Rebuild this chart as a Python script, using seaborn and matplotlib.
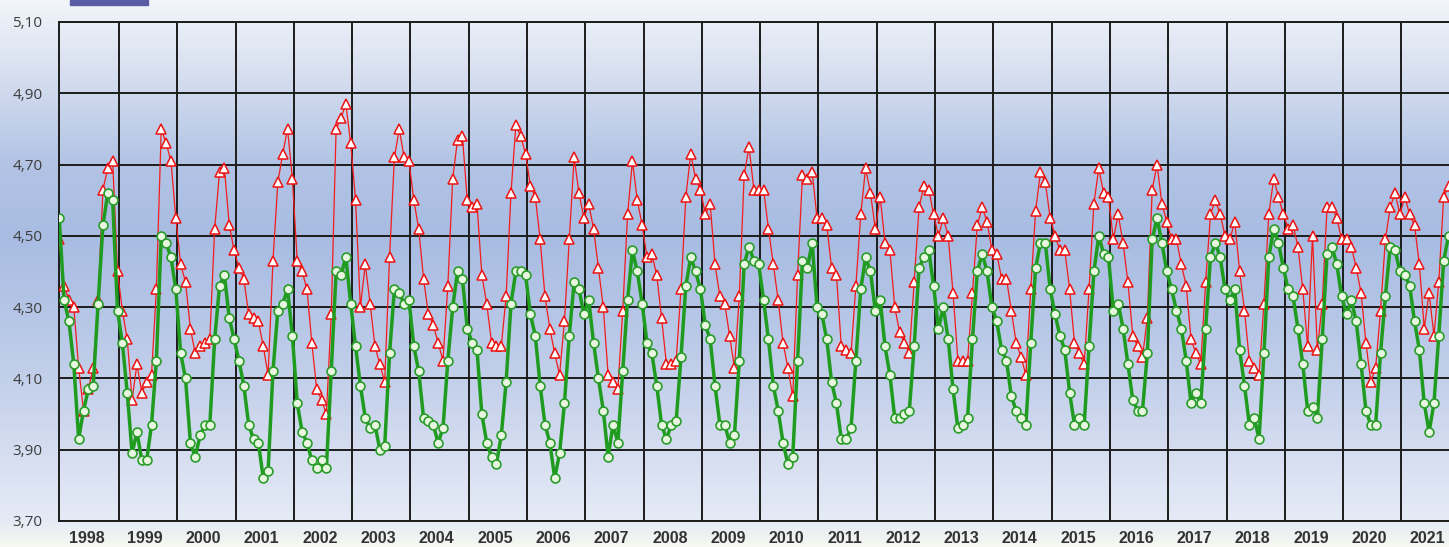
import numpy as np
import pandas as pd
import matplotlib
matplotlib.use("Agg")
import matplotlib.pyplot as plt
import seaborn as sns
from matplotlib.patches import Rectangle

# ---------------------------
# Data: monthly values from Jan 1998
# ---------------------------
years = list(range(1998, 2022))

green_vals = [
    4.55, 4.32, 4.26, 4.14, 3.93, 4.01, 4.07, 4.08, 4.31, 4.53, 4.62, 4.60,  # 1998
    4.29, 4.20, 4.06, 3.89, 3.95, 3.87, 3.87, 3.97, 4.15, 4.50, 4.48, 4.44,  # 1999
    4.35, 4.17, 4.10, 3.92, 3.88, 3.94, 3.97, 3.97, 4.21, 4.36, 4.39, 4.27,  # 2000
    4.21, 4.15, 4.08, 3.97, 3.93, 3.92, 3.82, 3.84, 4.12, 4.29, 4.31, 4.35,  # 2001
    4.22, 4.03, 3.95, 3.92, 3.87, 3.85, 3.87, 3.85, 4.12, 4.40, 4.39, 4.44,  # 2002
    4.31, 4.19, 4.08, 3.99, 3.96, 3.97, 3.90, 3.91, 4.17, 4.35, 4.34, 4.31,  # 2003
    4.32, 4.19, 4.12, 3.99, 3.98, 3.97, 3.92, 3.96, 4.15, 4.30, 4.40, 4.38,  # 2004
    4.24, 4.20, 4.18, 4.00, 3.92, 3.88, 3.86, 3.94, 4.09, 4.31, 4.40, 4.40,  # 2005
    4.39, 4.28, 4.22, 4.08, 3.97, 3.92, 3.82, 3.89, 4.03, 4.22, 4.37, 4.35,  # 2006
    4.28, 4.32, 4.20, 4.10, 4.01, 3.88, 3.97, 3.92, 4.12, 4.32, 4.46, 4.40,  # 2007
    4.31, 4.20, 4.17, 4.08, 3.97, 3.93, 3.97, 3.98, 4.16, 4.36, 4.44, 4.40,  # 2008
    4.35, 4.25, 4.21, 4.08, 3.97, 3.97, 3.92, 3.94, 4.15, 4.42, 4.47, 4.43,  # 2009
    4.42, 4.32, 4.21, 4.08, 4.01, 3.92, 3.86, 3.88, 4.15, 4.43, 4.41, 4.48,  # 2010
    4.30, 4.28, 4.21, 4.09, 4.03, 3.93, 3.93, 3.96, 4.15, 4.35, 4.44, 4.40,  # 2011
    4.29, 4.32, 4.19, 4.11, 3.99, 3.99, 4.00, 4.01, 4.19, 4.41, 4.44, 4.46,  # 2012
    4.36, 4.24, 4.30, 4.21, 4.07, 3.96, 3.97, 3.99, 4.21, 4.40, 4.45, 4.40,  # 2013
    4.30, 4.26, 4.18, 4.15, 4.05, 4.01, 3.99, 3.97, 4.20, 4.41, 4.48, 4.48,  # 2014
    4.35, 4.28, 4.22, 4.18, 4.06, 3.97, 3.99, 3.97, 4.19, 4.40, 4.50, 4.45,  # 2015
    4.44, 4.29, 4.31, 4.24, 4.14, 4.04, 4.01, 4.01, 4.17, 4.49, 4.55, 4.48,  # 2016
    4.40, 4.35, 4.29, 4.24, 4.15, 4.03, 4.06, 4.03, 4.24, 4.44, 4.48, 4.44,  # 2017
    4.35, 4.32, 4.35, 4.18, 4.08, 3.97, 3.99, 3.93, 4.17, 4.44, 4.52, 4.48,  # 2018
    4.41, 4.35, 4.33, 4.24, 4.14, 4.01, 4.02, 3.99, 4.21, 4.45, 4.47, 4.42,  # 2019
    4.33, 4.28, 4.32, 4.26, 4.14, 4.01, 3.97, 3.97, 4.17, 4.33, 4.47, 4.46,  # 2020
    4.40, 4.39, 4.36, 4.26, 4.18, 4.03, 3.95, 4.03, 4.22, 4.43, 4.50,        # 2021
]

red_vals = [
    4.49, 4.36, 4.32, 4.30, 4.13, 4.01, 4.07, 4.13, 4.32, 4.63, 4.69, 4.71,  # 1998
    4.40, 4.29, 4.21, 4.04, 4.14, 4.06, 4.09, 4.11, 4.35, 4.80, 4.76, 4.71,  # 1999
    4.55, 4.42, 4.37, 4.24, 4.17, 4.19, 4.20, 4.21, 4.52, 4.68, 4.69, 4.53,  # 2000
    4.46, 4.41, 4.38, 4.28, 4.27, 4.26, 4.19, 4.11, 4.43, 4.65, 4.73, 4.80,  # 2001
    4.66, 4.43, 4.40, 4.35, 4.20, 4.07, 4.04, 4.00, 4.28, 4.80, 4.83, 4.87,  # 2002
    4.76, 4.60, 4.30, 4.42, 4.31, 4.19, 4.14, 4.09, 4.44, 4.72, 4.80, 4.72,  # 2003
    4.71, 4.60, 4.52, 4.38, 4.28, 4.25, 4.20, 4.15, 4.36, 4.66, 4.77, 4.78,  # 2004
    4.60, 4.58, 4.59, 4.39, 4.31, 4.20, 4.19, 4.19, 4.33, 4.62, 4.81, 4.78,  # 2005
    4.73, 4.64, 4.61, 4.49, 4.33, 4.24, 4.17, 4.11, 4.26, 4.49, 4.72, 4.62,  # 2006
    4.55, 4.59, 4.52, 4.41, 4.30, 4.11, 4.09, 4.07, 4.29, 4.56, 4.71, 4.60,  # 2007
    4.53, 4.44, 4.45, 4.39, 4.27, 4.14, 4.14, 4.15, 4.35, 4.61, 4.73, 4.66,  # 2008
    4.63, 4.56, 4.59, 4.42, 4.33, 4.31, 4.22, 4.13, 4.33, 4.67, 4.75, 4.63,  # 2009
    4.63, 4.63, 4.52, 4.42, 4.32, 4.20, 4.13, 4.05, 4.39, 4.67, 4.66, 4.68,  # 2010
    4.55, 4.55, 4.53, 4.41, 4.39, 4.19, 4.18, 4.17, 4.36, 4.56, 4.69, 4.62,  # 2011
    4.52, 4.61, 4.48, 4.46, 4.30, 4.23, 4.20, 4.17, 4.37, 4.58, 4.64, 4.63,  # 2012
    4.56, 4.50, 4.55, 4.50, 4.34, 4.15, 4.15, 4.15, 4.34, 4.53, 4.58, 4.54,  # 2013
    4.46, 4.45, 4.38, 4.38, 4.29, 4.20, 4.16, 4.11, 4.35, 4.57, 4.68, 4.65,  # 2014
    4.55, 4.50, 4.46, 4.46, 4.35, 4.20, 4.17, 4.14, 4.35, 4.59, 4.69, 4.62,  # 2015
    4.61, 4.49, 4.56, 4.48, 4.37, 4.22, 4.19, 4.16, 4.27, 4.63, 4.70, 4.59,  # 2016
    4.54, 4.49, 4.49, 4.42, 4.36, 4.21, 4.17, 4.14, 4.37, 4.56, 4.60, 4.56,  # 2017
    4.50, 4.49, 4.54, 4.40, 4.29, 4.15, 4.13, 4.11, 4.31, 4.56, 4.66, 4.61,  # 2018
    4.56, 4.52, 4.53, 4.47, 4.35, 4.19, 4.50, 4.18, 4.31, 4.58, 4.58, 4.55,  # 2019
    4.49, 4.49, 4.47, 4.41, 4.34, 4.20, 4.09, 4.13, 4.29, 4.49, 4.58, 4.62,  # 2020
    4.56, 4.61, 4.56, 4.53, 4.42, 4.24, 4.34, 4.22, 4.37, 4.61, 4.64,        # 2021
]

y_ticks = [3.70, 3.90, 4.10, 4.30, 4.50, 4.70, 4.90, 5.10]

df = pd.DataFrame({
    "month": np.arange(len(green_vals)),
    "green": green_vals,
    "red": red_vals,
})

# ---------------------------
# Figure + gradient background
# ---------------------------
sns.set_style("white")
W, H = 1449, 547
fig = plt.figure(figsize=(W / 100, H / 100), dpi=100)

# vertical colour ramp (pixel row -> rgb)
stops_px = [0, 22, 60, 160, 235, 310, 380, 450, 521, 547]
stops_col = ["#f4f6fa", "#e9eef7", "#dce3f1", "#b3c4e5", "#a8bce2",
             "#b4c5e6", "#c3d0ea", "#d5ddf0", "#e5ebf6", "#f7f8f0"]
rgb = np.array([matplotlib.colors.to_rgb(c) for c in stops_col])
rows = np.arange(H)
grad = np.stack([np.interp(rows, stops_px, rgb[:, k]) for k in range(3)], axis=1)
grad = grad[:, None, :]

bg = fig.add_axes([0, 0, 1, 1], zorder=0)
bg.imshow(grad, aspect="auto", extent=[0, 1, 0, 1], interpolation="bilinear")
bg.axis("off")

# partially visible legend swatch at the very top
fig.add_artist(Rectangle((70 / W, 1 - 5 / H), 78 / W, 5 / H,
                         transform=fig.transFigure, color="#5b5ca6", zorder=5))

# ---------------------------
# Main axes
# ---------------------------
left, bottom, top = 58.5, 521, 22
ax = fig.add_axes([left / W, (H - bottom) / H, 1 - left / W, (bottom - top) / H], zorder=1)
ax.set_facecolor("none")

sns.lineplot(data=df, x="month", y="red", ax=ax, color="#f21c1c", linewidth=0.9,
             marker="^", markersize=7, markerfacecolor="white",
             markeredgecolor="#ee1111", markeredgewidth=1.1, zorder=3)
sns.lineplot(data=df, x="month", y="green", ax=ax, color="#1f9c1f", linewidth=2.5,
             marker="o", markersize=6.4, markerfacecolor="#e8f6df",
             markeredgecolor="#2a9d2a", markeredgewidth=1.2, zorder=4)

ax.set_xlim(-0.15, 286.1)
ax.set_ylim(3.70, 5.10)

# year boundaries as major ticks (grid), year names as minor ticks
bounds = [12 * k + 0.3 for k in range(1, len(years))]
centers = [12 * k + 5.7 for k in range(len(years))]
ax.set_xticks(bounds)
ax.set_xticklabels([""] * len(bounds))
ax.set_xticks(centers, minor=True)
ax.set_xticklabels([str(y) for y in years], minor=True, fontweight="bold",
                   fontfamily="Liberation Sans", fontsize=11.5, color="#333333")

ax.set_yticks(y_ticks)
ax.set_yticklabels([f"{v:.2f}".replace(".", ",") for v in y_ticks],
                   fontfamily="Open Sans", fontsize=11, color="#3c3c3c")

ax.grid(True, which="major", color="#1c1c1c", linewidth=1.4)
ax.set_axisbelow(True)
ax.tick_params(which="both", length=0)
ax.tick_params(axis="y", pad=11.5)
ax.tick_params(axis="x", which="minor", pad=7)
ax.set_xlabel("")
ax.set_ylabel("")

for side in ["left", "top", "bottom"]:
    ax.spines[side].set_color("#1c1c1c")
    ax.spines[side].set_linewidth(1.4)
ax.spines["right"].set_visible(False)

fig.savefig("out.png", dpi=100)
